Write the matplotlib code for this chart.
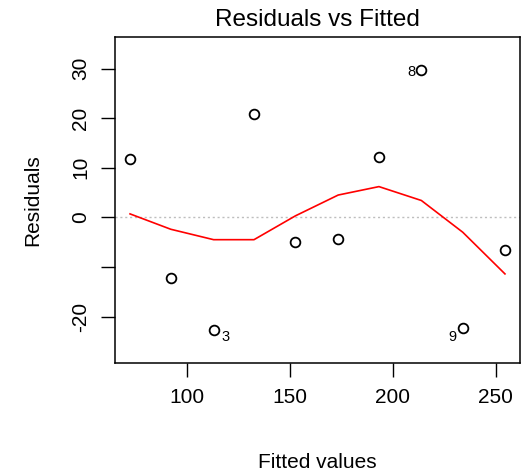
import matplotlib
matplotlib.use("Agg")
import matplotlib.pyplot as plt

plt.rcParams['font.family'] = ['Liberation Sans', 'DejaVu Sans']

fitted = [72.3, 92.1, 112.9, 132.5, 152.6, 173.4, 193.2, 213.8, 233.9, 254.4]
resid = [11.8, -12.3, -22.7, 20.8, -5.0, -4.4, 12.2, 29.8, -22.3, -6.5]
smooth = [0.7, -2.4, -4.5, -4.5, 0.3, 4.5, 6.2, 3.4, -3.0, -11.4]
labels = {2: "3", 7: "8", 8: "9"}
label_offsets = {2: (11.5, -7.5), 7: (-10, -2.5), 8: (-10.5, -9.5)}
xticks = [100, 150, 200, 250]
yticks = [-20, -10, 0, 10, 20, 30]
yticklabels = ["-20", "", "0", "10", "20", "30"]

fig = plt.figure(figsize=(5.21, 4.75), dpi=100)
ax = fig.add_axes([115 / 521, 1 - 362.7 / 475, 405 / 521, 325.4 / 475])

ax.axhline(0, color="#BEBEBE", linestyle=(0, (1.5, 2)), linewidth=1)
ax.plot(fitted, resid, 'o', mfc='none', mec='black', ms=7, mew=1.3)
ax.plot(fitted, smooth, color='red', linewidth=1.2)

for i, t in labels.items():
    ax.annotate(t, (fitted[i], resid[i]), xytext=label_offsets[i],
                textcoords='offset pixels', ha='center', va='center', fontsize=10.5)

ax.set_xlim(65, 261.7)
ax.set_ylim(-29.3, 36.3)
ax.set_xticks(xticks)
ax.set_yticks(yticks)
ax.set_yticklabels(yticklabels, rotation=90, va='center')
ax.tick_params(direction='out', length=10, width=1, labelsize=15, pad=8)
for s in ax.spines.values():
    s.set_linewidth(1.1)

ax.set_title("Residuals vs Fitted", fontsize=17.5, pad=8)
ax.set_xlabel("Fitted values", fontsize=15, labelpad=33)
ax.set_ylabel("Residuals", fontsize=15, labelpad=21)

fig.savefig("out.png", dpi=100)
